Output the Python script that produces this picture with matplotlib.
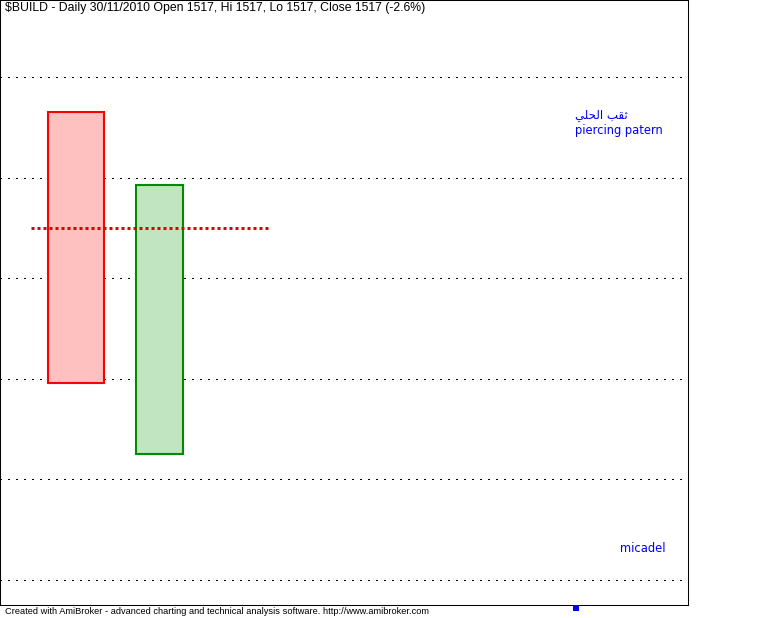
import matplotlib
matplotlib.use("Agg")
import matplotlib.pyplot as plt
from matplotlib.patches import Rectangle

# candle data (two daily bars of $BUILD)
bar_idx = [0, 1]
opens = [1682.6, 1512.4]
closes = [1548.0, 1646.5]
grid_levels = [1450, 1500, 1550, 1600, 1650, 1700]
mid_level = 1625.0  # red dotted reference line
mid_span = [-0.54, 2.30]

title = "\\$BUILD - Daily 30/11/2010 Open 1517, Hi 1517, Lo 1517, Close 1517 (-2.6%)"
# "ثقب الحلي" written in shaped presentation forms, visual order
arabic_label = "\uFEF2\uFEE0\uFEA4\uFEDF\uFE8D \uFE90\uFED8\uFE9B"
pattern_label = "piercing patern"
author_label = "micadel"
footer = "Created with AmiBroker - advanced charting and technical analysis software. http://www.amibroker.com"

W, H = 764, 618
fig = plt.figure(figsize=(W / 100, H / 100), dpi=100)
fig.patch.set_facecolor("white")

ax = fig.add_axes([0, 13 / H, 688 / W, 605 / H])
ax.set_xlim(-0.910, 7.329)
ax.set_ylim(1437.6, 1738.2)

for s in ax.spines.values():
    s.set_color("black")
    s.set_linewidth(0.75)

ax.set_yticks(grid_levels)
ax.set_xticks([])
ax.tick_params(left=False, labelleft=False)
ax.grid(axis="y", color="black", linewidth=0.75, linestyle=(0, (1, 6.68)),
        antialiased=False)

widths = [0.67, 0.563]
styles = [("#ffc0c0", "#ff0000"), ("#c1e4c1", "#008c00")]
for i, o, c, w, (fc, ec) in zip(bar_idx, opens, closes, widths, styles):
    lo, hi = min(o, c), max(o, c)
    ax.add_patch(Rectangle((i - w / 2, lo), w, hi - lo, facecolor=fc,
                           edgecolor=ec, linewidth=1.5, zorder=3))

ax.plot(mid_span, [mid_level, mid_level], color="#e00000", linewidth=2.16,
        linestyle=(0, (1, 1)), zorder=4)

def px(x, y):
    return x / W, 1 - y / H

fig.text(*px(5, 2), title, fontsize=8.8, family="Liberation Sans", va="top", ha="left")
fig.text(*px(575, 115), arabic_label, fontsize=8.5, family="DejaVu Sans",
         color="#0000ff", va="center", ha="left")
fig.text(*px(575, 130), pattern_label, fontsize=8.3, family="DejaVu Sans",
         color="#0000ff", va="center", ha="left")
fig.text(*px(620, 549), author_label, fontsize=8.3, family="DejaVu Sans",
         color="#0000ff", va="center", ha="left")
fig.text(*px(5, 611), footer, fontsize=6.7, family=["Liberation Sans Narrow", "Liberation Sans"],
         va="center", ha="left")
fig.patches.append(Rectangle(px(573, 611), 6 / W, 6 / H, transform=fig.transFigure,
                             facecolor="#0000ff", edgecolor="none"))

fig.savefig("out.png", dpi=100, facecolor="white")
